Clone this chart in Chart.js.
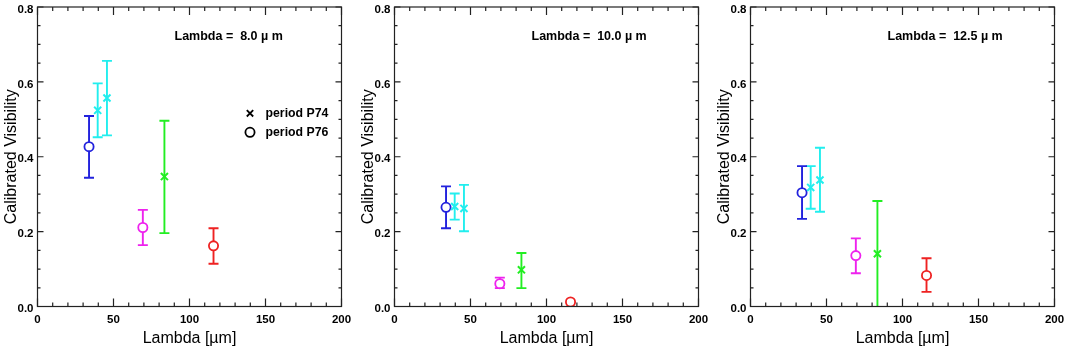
<!DOCTYPE html>
<html><head><meta charset="utf-8">
<script src="https://cdn.jsdelivr.net/npm/chart.js@4.4.0/dist/chart.umd.min.js"></script>
<style>
html,body{margin:0;padding:0;background:#fff;width:1065px;height:348px;overflow:hidden;position:relative}
canvas{position:absolute;top:0}
</style></head><body>
<canvas id="c1" width="360" height="348" style="left:0px"></canvas>
<canvas id="c2" width="360" height="348" style="left:357px"></canvas>
<canvas id="c3" width="360" height="348" style="left:713px"></canvas>
<script>
// ---- data ----
const panelLabels = ['Lambda =  8.0 \u00b5 m', 'Lambda =  10.0 \u00b5 m', 'Lambda =  12.5 \u00b5 m'];
const seriesNames = ['period P74', 'period P76'];
const xAxisTitle = 'Lambda [\u00b5m]';
const yAxisTitle = 'Calibrated Visibility';

// baselines (x) of each point
const p74X = [39.6, 45.7, 83.5];
const p76X = [33.9, 69.3, 115.8];
const p74Colors = ['#22eeee', '#22eeee', '#22ee22'];
const p76Colors = ['#2222dd', '#ee22ee', '#ee2222'];

// 8.0 micron
const p74Vis8 = [0.524, 0.557, 0.347];
const p74Lo8  = [0.452, 0.457, 0.196];
const p74Hi8  = [0.596, 0.656, 0.496];
const p76Vis8 = [0.427, 0.211, 0.162];
const p76Lo8  = [0.344, 0.164, 0.114];
const p76Hi8  = [0.509, 0.258, 0.209];

// 10.0 micron
const p74Vis10 = [0.267, 0.262, 0.098];
const p74Lo10  = [0.232, 0.201, 0.049];
const p74Hi10  = [0.302, 0.325, 0.143];
const p76Vis10 = [0.265, 0.061, 0.012];
const p76Lo10  = [0.209, 0.049, null];
const p76Hi10  = [0.321, 0.077, null];

// 12.5 micron
const p74Vis12 = [0.318, 0.338, 0.141];
const p74Lo12  = [0.261, 0.253, -0.05];
const p74Hi12  = [0.375, 0.424, 0.282];
const p76Vis12 = [0.304, 0.136, 0.083];
const p76Lo12  = [0.234, 0.089, 0.039];
const p76Hi12  = [0.375, 0.182, 0.129];

const xMin = 0, xMax = 200, xStep = 10, xMajor = 50;
const yMin = 0, yMax = 0.8, yStep = 0.05, yMajor = 0.2;

const FONT = '"Liberation Sans", Arial, Helvetica, sans-serif';

// ---- plugins ----
const errorBars = {
  id: 'errorBars',
  beforeDatasetsDraw(chart) {
    const {ctx, chartArea: a, scales: {x, y}} = chart;
    ctx.save();
    ctx.beginPath(); ctx.rect(a.left, a.top, a.right - a.left, a.bottom - a.top); ctx.clip();
    chart.data.datasets.forEach(ds => {
      ds.data.forEach((p, j) => {
        if (ds.errLo[j] == null) return;
        const px = x.getPixelForValue(p.x);
        const yl = y.getPixelForValue(ds.errLo[j]);
        const yh = y.getPixelForValue(ds.errHi[j]);
        ctx.strokeStyle = ds.pointBorderColor[j];
        ctx.lineWidth = 1.9;
        ctx.beginPath();
        ctx.moveTo(px, yl); ctx.lineTo(px, yh);
        ctx.moveTo(px - 5, yl); ctx.lineTo(px + 5, yl);
        ctx.moveTo(px - 5, yh); ctx.lineTo(px + 5, yh);
        ctx.stroke();
      });
    });
    ctx.restore();
  }
};

const frame = {
  id: 'frame',
  afterDraw(chart) {
    const {ctx, chartArea: a, scales: {x, y}} = chart;
    ctx.save();
    ctx.strokeStyle = '#222';
    ctx.lineWidth = 1.2;
    ctx.strokeRect(a.left, a.top, a.right - a.left, a.bottom - a.top);
    ctx.beginPath();
    x.ticks.forEach(t => {
      const px = x.getPixelForValue(t.value);
      const major = Math.abs(t.value / xMajor - Math.round(t.value / xMajor)) < 1e-6;
      const L = major ? 8 : 4;
      ctx.moveTo(px, a.bottom); ctx.lineTo(px, a.bottom - L);
      ctx.moveTo(px, a.top); ctx.lineTo(px, a.top + L);
    });
    y.ticks.forEach(t => {
      const py = y.getPixelForValue(t.value);
      const major = Math.abs(t.value / yMajor - Math.round(t.value / yMajor)) < 1e-6;
      const L = major ? 6 : 3;
      ctx.moveTo(a.left, py); ctx.lineTo(a.left + L, py);
      ctx.moveTo(a.right, py); ctx.lineTo(a.right - L, py);
    });
    ctx.stroke();
    ctx.restore();
  }
};

const annotations = {
  id: 'annotations',
  afterDraw(chart, args, opts) {
    const {ctx, chartArea: a} = chart;
    ctx.save();
    ctx.fillStyle = '#000';
    ctx.textBaseline = 'middle';
    ctx.textAlign = 'left';
    ctx.font = 'bold 12.5px ' + FONT;
    ctx.fillText(opts.label, a.left + 137, 37);
    if (opts.legend) {
      ctx.font = 'bold 12.3px ' + FONT;
      const mx = a.left + 212.5, tx = a.left + 228;
      ctx.strokeStyle = '#000'; ctx.lineWidth = 1.8;
      ctx.beginPath();
      ctx.moveTo(mx - 3.2, 113.3 - 3.2); ctx.lineTo(mx + 3.2, 113.3 + 3.2);
      ctx.moveTo(mx + 3.2, 113.3 - 3.2); ctx.lineTo(mx - 3.2, 113.3 + 3.2);
      ctx.stroke();
      ctx.fillText(seriesNames[0], tx, 113.5);
      ctx.beginPath(); ctx.arc(mx, 132.3, 4.6, 0, Math.PI * 2); ctx.stroke();
      ctx.fillText(seriesNames[1], tx, 132.5);
    }
    ctx.restore();
  }
};

function makeData(xs, ys) { return xs.map((v, i) => ({x: v, y: ys[i]})); }

function makeChart(id, label, legend, v74, lo74, hi74, v76, lo76, hi76) {
  return new Chart(document.getElementById(id), {
    type: 'scatter',
    data: {
      datasets: [
        {
          label: seriesNames[0], data: makeData(p74X, v74), errLo: lo74, errHi: hi74,
          pointStyle: 'crossRot', pointRadius: 5, pointBorderWidth: 2,
          pointBorderColor: p74Colors, pointBackgroundColor: p74Colors, showLine: false
        },
        {
          label: seriesNames[1], data: makeData(p76X, v76), errLo: lo76, errHi: hi76,
          pointStyle: 'circle', pointRadius: 4.6, pointBorderWidth: 1.8,
          pointBorderColor: p76Colors, pointBackgroundColor: '#fff', showLine: false
        }
      ]
    },
    options: {
      responsive: false, animation: false, devicePixelRatio: 1, events: [],
      layout: {padding: {top: 3, right: 18.5, left: 0, bottom: 0}},
      plugins: {legend: {display: false}, tooltip: {enabled: false},
        annotations: {label: label, legend: legend}},
      scales: {
        x: {
          type: 'linear', min: xMin, max: xMax,
          grid: {display: false, drawTicks: false}, border: {display: false},
          ticks: {
            stepSize: xStep, autoSkip: false, maxRotation: 0, padding: 6,
            color: '#000', font: {family: FONT, size: 11.5, weight: 'bold'},
            callback: v => (Math.abs(v / xMajor - Math.round(v / xMajor)) < 1e-6 ? String(Math.round(v)) : '')
          },
          title: {display: true, text: xAxisTitle, color: '#000',
            font: {family: FONT, size: 16}, padding: {top: 0, bottom: 0}},
          afterFit(s) { s.height = 41.5; s.paddingLeft = 0; s.paddingRight = 0; }
        },
        y: {
          type: 'linear', min: yMin, max: yMax,
          grid: {display: false, drawTicks: false}, border: {display: false},
          ticks: {
            stepSize: yStep, autoSkip: false, padding: 4, labelOffset: 2.5,
            color: '#000', font: {family: FONT, size: 11.5, weight: 'bold'},
            callback: v => (Math.abs(v / yMajor - Math.round(v / yMajor)) < 1e-6 ? v.toFixed(1) : '')
          },
          title: {display: true, text: yAxisTitle, color: '#000',
            font: {family: FONT, size: 16}, padding: {top: 2, bottom: 0}},
          afterFit(s) { s.width = 37.5; s.paddingTop = 0; s.paddingBottom = 0; }
        }
      }
    },
    plugins: [errorBars, frame, annotations]
  });
}

makeChart('c1', panelLabels[0], true,  p74Vis8,  p74Lo8,  p74Hi8,  p76Vis8,  p76Lo8,  p76Hi8);
makeChart('c2', panelLabels[1], false, p74Vis10, p74Lo10, p74Hi10, p76Vis10, p76Lo10, p76Hi10);
makeChart('c3', panelLabels[2], false, p74Vis12, p74Lo12, p74Hi12, p76Vis12, p76Lo12, p76Hi12);
</script>
</body></html>
